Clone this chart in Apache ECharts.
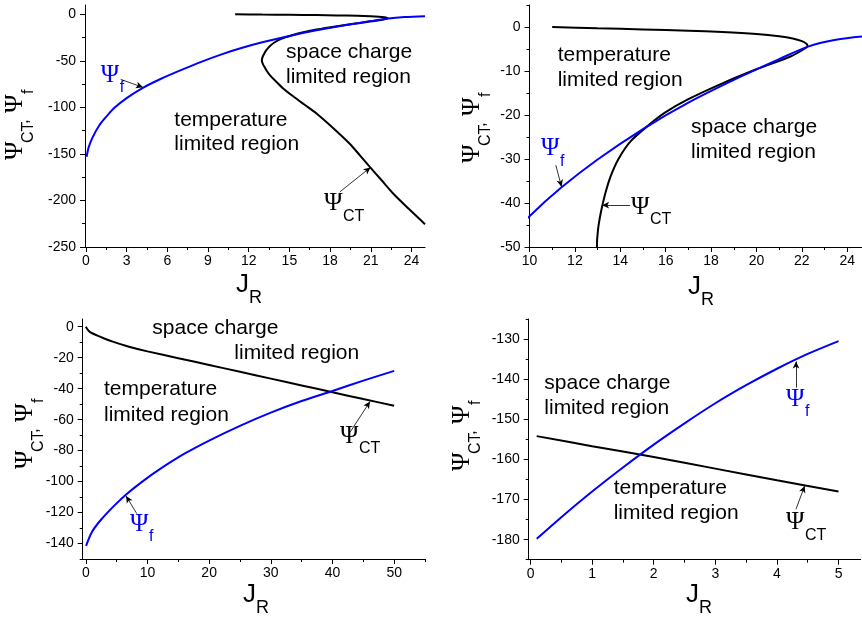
<!DOCTYPE html>
<html>
<head>
<meta charset="utf-8">
<script src="https://cdn.jsdelivr.net/npm/echarts@6/dist/echarts.min.js"></script>
<style>
  html, body { margin: 0; padding: 0; background: #fff; }
  #chart { width: 862px; height: 618px; }
</style>
</head>
<body>
<div id="chart"></div>
<script>
// top row: same curves, right panel is a zoom of the left one
const topFJ   = [0.05, 0.2, 0.5, 1, 1.5, 2.1, 3, 4.2, 5.5, 7, 8.6, 10, 11.4, 13, 15, 17, 19.3, 21, 22.3, 23.5, 25];
const topFPsi = [-153, -143, -132, -119, -110, -100.5, -90, -79, -69.5, -60, -50.5, -43, -36.5, -30.1, -23.2, -17.2, -11.3, -7.3, -4.4, -2.9, -2.0];
const topCTJ   = [11, 13, 15, 17, 18.5, 20, 21, 21.6, 22.0, 22.2, 22.25, 22.1, 21.5, 20, 18.5, 17, 15.95, 15.2, 14.45, 13.92, 13.57, 13.33, 13.15, 13.02, 12.97, 13.05, 13.2, 13.35, 13.56, 14, 14.54, 15.3, 16.1, 17, 18.2, 19.45, 20.2, 20.93, 21.8, 22.65, 23.8, 25];
const topCTPsi = [0, -0.3, -0.55, -0.85, -1.15, -1.6, -2.1, -2.6, -3.2, -3.8, -4.3, -5, -6.7, -9.6, -12.8, -16.4, -19.5, -22.5, -26, -30, -34, -38, -42, -46, -50, -53.5, -57.5, -61.2, -65.3, -72, -79.6, -88.3, -96.9, -106.5, -121.8, -139, -151.5, -163.9, -178.3, -192.5, -209, -225.5];

// bottom left
const blFJ   = [0.05, 1, 2.5, 4.5, 6.5, 9, 12, 16, 20, 25, 30, 35, 40, 45, 50];
const blFPsi = [-141.5, -132.5, -124.5, -116, -108.5, -100.5, -92, -82, -73.5, -64, -55.5, -48, -41.5, -34.8, -28.5];
const blCTJ   = [0, 0.3, 0.7, 1.8, 3, 4.5, 7, 10, 15, 20, 25, 30, 35, 40, 45, 50];
const blCTPsi = [0, -1.8, -3.5, -5.6, -7.6, -9.8, -12.9, -15.9, -20.3, -24.7, -29.1, -33.5, -37.9, -42.3, -46.7, -51];

// bottom right
const brFJ   = [0.1, 0.5, 1, 1.5, 2, 2.5, 3, 3.5, 4, 4.5, 5];
const brFPsi = [-179.8, -174.4, -168.0, -162.0, -156.3, -151.0, -146.0, -141.5, -137.4, -133.7, -130.5];
const brCTJ   = [0.1, 1, 2, 3, 4, 5];
const brCTPsi = [-154.2, -156.7, -159.4, -162.3, -165.2, -168];

// tick labels
const tlX = [0, 3, 6, 9, 12, 15, 18, 21, 24];
const tlY = [-250, -200, -150, -100, -50, 0];
const trX = [10, 12, 14, 16, 18, 20, 22, 24];
const trY = [-50, -40, -30, -20, -10, 0];
const blX = [0, 10, 20, 30, 40, 50];
const blY = [-140, -120, -100, -80, -60, -40, -20, 0];
const brX = [0, 1, 2, 3, 4, 5];
const brY = [-180, -170, -160, -150, -140, -130];

const SANS = '"Liberation Sans", Arial, sans-serif';
const SERIF = '"Liberation Serif", "Times New Roman", serif';
const BLUE = '#0000ff';

const zip = (a, b) => a.map((v, i) => [v, b[i]]);

function minorsOf(maj, min, max) {
  const step = maj[1] - maj[0];
  const out = [maj[0] - step / 2];
  maj.forEach(v => out.push(v + step / 2));
  return out.filter(v => v >= min - 1e-9 && v <= max + 1e-9);
}

const panels = [
  { grid: { left: 85, top: 5, width: 340, height: 242 },
    x: [-0.07, 25], xt: tlX, y: [-250, 10], yt: tlY,
    f: zip(topFJ, topFPsi), ct: zip(topCTJ, topCTPsi),
    fArrow: [[2.56, -69.9], [4.2, -78.5]], ctArrow: [[18.72, -190.8], [20.98, -164.5]] },
  { grid: { left: 529.5, top: 5, width: 332.5, height: 242 },
    x: [10, 24.65], xt: trX, y: [-50, 5], yt: trY,
    f: zip(topFJ, topFPsi), ct: zip(topCTJ, topCTPsi),
    fArrow: [[11.16, -31.4], [11.41, -36.3]], ctArrow: [[14.43, -40.5], [13.2, -40.5]] },
  { grid: { left: 82.7, top: 319, width: 342.3, height: 240 },
    x: [-0.5, 55], xt: blX, y: [-150, 5], yt: blY,
    f: zip(blFJ, blFPsi), ct: zip(blCTJ, blCTPsi),
    fArrow: [[8.27, -120.7], [6.53, -109.3]], ctArrow: [[42.84, -68.2], [46.08, -48.3]] },
  { grid: { left: 528.7, top: 319, width: 332, height: 240.7 },
    x: [-0.03, 5.36], xt: brX, y: [-185, -125], yt: brY,
    f: zip(brFJ, brFPsi), ct: zip(brCTJ, brCTPsi),
    fArrow: [[4.31, -142.1], [4.31, -135.6]], ctArrow: [[4.31, -172.4], [4.45, -166.6]] }
];

function axisPair(gi, dim, range, maj) {
  const pos = dim === 'x' ? 'bottom' : 'left';
  const base = {
    gridIndex: gi, type: 'value', min: range[0], max: range[1], position: pos,
    splitLine: { show: false }, minorTick: { show: false }
  };
  const major = Object.assign({}, base, {
    axisLine: { show: true, onZero: false, lineStyle: { color: '#000', width: 1 } },
    axisTick: { show: true, inside: false, length: 5, customValues: maj, lineStyle: { color: '#000', width: 1 } },
    axisLabel: { show: true, customValues: maj, margin: dim === 'x' ? 7 : 9,
      fontSize: 14, fontFamily: SANS, color: '#000' }
  });
  const minor = Object.assign({}, base, {
    axisLine: { show: false, onZero: false },
    axisTick: { show: true, inside: false, length: 3, customValues: minorsOf(maj, range[0], range[1]),
      lineStyle: { color: '#000', width: 1 } },
    axisLabel: { show: false }
  });
  return [major, minor];
}

function arrow(a) {
  return {
    silent: true, animation: false, symbol: ['none', 'arrow'], symbolSize: [5, 7],
    label: { show: false }, emphasis: { disabled: true },
    lineStyle: { color: '#000', width: 0.8, type: 'solid' },
    data: [[{ coord: a[0] }, { coord: a[1] }]]
  };
}

const grids = [], xAxes = [], yAxes = [], series = [];
panels.forEach((p, i) => {
  grids.push(Object.assign({ outerBoundsMode: 'none', containLabel: false }, p.grid));
  xAxes.push(...axisPair(i, 'x', p.x, p.xt));
  yAxes.push(...axisPair(i, 'y', p.y, p.yt));
  series.push({
    type: 'line', xAxisIndex: 2 * i, yAxisIndex: 2 * i, data: p.ct,
    showSymbol: false, smooth: 0.25, lineStyle: { color: '#000', width: 2 },
    markLine: arrow(p.ctArrow)
  });
  series.push({
    type: 'line', xAxisIndex: 2 * i, yAxisIndex: 2 * i, data: p.f,
    showSymbol: false, smooth: 0.3, lineStyle: { color: BLUE, width: 2 },
    markLine: arrow(p.fArrow)
  });
});

// text placed by its left edge and baseline
function txt(x, base, s, size, fam, color) {
  return {
    type: 'text', x: x, y: base - 0.36 * size, silent: true,
    style: { text: s, fontSize: size, fontFamily: fam, fill: color || '#000', align: 'left', verticalAlign: 'middle' }
  };
}
function psi(x, base, sub, color) {
  return [txt(x, base + 1, 'Ψ', 25, SERIF, color), txt(x + 19, base + 10.5, sub, 16, SANS, color)];
}
function yTitle(gx, gy) {
  return {
    type: 'group', x: gx, y: gy, rotation: Math.PI / 2, silent: true,
    children: [
      txt(0, 0, 'Ψ', 25, SERIF), txt(17, 10, 'CT', 16, SANS), txt(36, 5, ',', 17, SANS),
      txt(47, 0, 'Ψ', 25, SERIF), txt(66, 10, 'f', 16, SANS)
    ]
  };
}
function xTitle(x, base) {
  return [txt(x, base, 'J', 26, SANS), txt(x + 13, base + 11, 'R', 18, SANS)];
}
function region(x, b1, b2, l1, l2) {
  return [txt(x, b1, l1, 21, SANS), txt(x, b2, l2, 21, SANS)];
}

const graphics = [].concat(
  // top left
  region(286, 60, 84.3, 'space charge', 'limited region'),
  region(174.3, 128, 152, 'temperature', 'limited region'),
  psi(100.7, 83.3, 'f', BLUE), psi(324, 211.7, 'CT'),
  yTitle(24, 160), xTitle(236, 294),
  // top right
  region(557.7, 62.7, 87.3, 'temperature', 'limited region'),
  region(691, 135, 160, 'space charge', 'limited region'),
  psi(541, 156.7, 'f', BLUE), psi(631, 215, 'CT'),
  yTitle(481, 163), xTitle(688, 296),
  // bottom left
  [txt(152.3, 335.5, 'space charge', 21, SANS), txt(234.3, 361, 'limited region', 21, SANS)],
  region(104, 397, 422.3, 'temperature', 'limited region'),
  psi(340, 444, 'CT'), psi(130, 532.3, 'f', BLUE),
  yTitle(34, 469), xTitle(243, 604),
  // bottom right
  region(544.3, 391, 416, 'space charge', 'limited region'),
  region(613.7, 496.2, 521.2, 'temperature', 'limited region'),
  psi(786, 407.3, 'f', BLUE), psi(786, 530.7, 'CT'),
  yTitle(471, 471), xTitle(686, 604)
);

const chart = echarts.init(document.getElementById('chart'), null, { renderer: 'canvas' });
chart.setOption({
  animation: false,
  backgroundColor: '#fff',
  grid: grids,
  xAxis: xAxes,
  yAxis: yAxes,
  series: series,
  graphic: { elements: graphics }
});
</script>
</body>
</html>
